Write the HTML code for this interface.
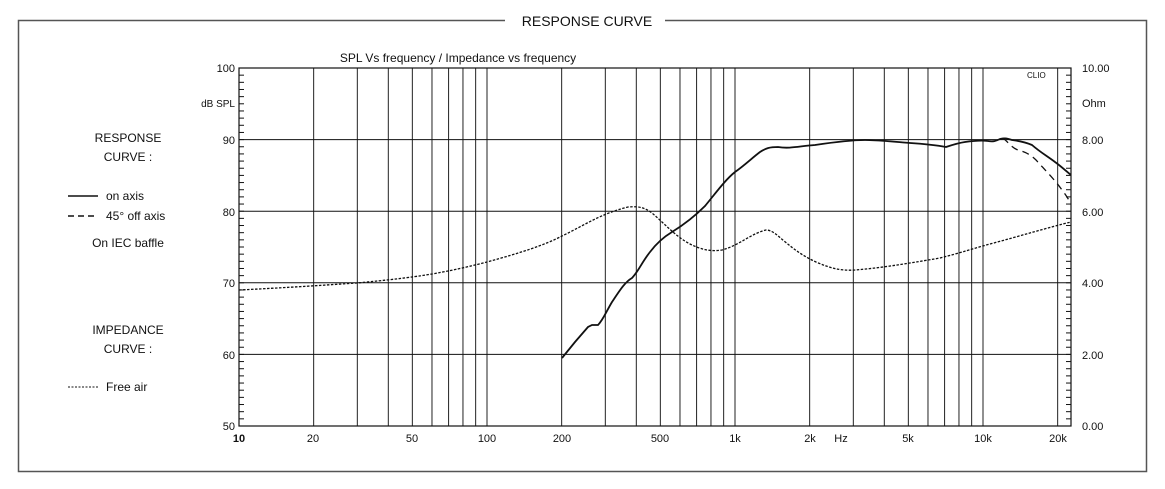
<!DOCTYPE html>
<html><head><meta charset="utf-8"><style>
body{margin:0;background:#fff;}
svg{display:block;font-family:"Liberation Sans",Arial,sans-serif;}
</style></head><body>
<svg id="s" width="1165" height="489" viewBox="0 0 1165 489" xmlns="http://www.w3.org/2000/svg">
<rect x="18.5" y="20.5" width="1128" height="451" fill="none" stroke="#555" stroke-width="1.5"/>
<rect x="505" y="10" width="160" height="20" fill="#fff"/>
<text x="587" y="26" font-size="14" text-anchor="middle" fill="#111">RESPONSE CURVE</text>
<text x="458" y="62" font-size="12" text-anchor="middle" fill="#111">SPL Vs frequency / Impedance vs frequency</text>
<g id="grid"></g>
<rect x="239" y="68" width="832" height="358" fill="none" stroke="#111" stroke-width="1.2"/>
<g font-size="11" fill="#111" text-anchor="end">
<text x="235" y="72">100</text><text x="235" y="107" font-size="10">dB SPL</text>
<text x="235" y="144">90</text><text x="235" y="216">80</text><text x="235" y="287">70</text>
<text x="235" y="359">60</text><text x="235" y="430">50</text>
</g>
<g font-size="11" fill="#111">
<text x="1082" y="72">10.00</text><text x="1082" y="107">Ohm</text>
<text x="1082" y="144">8.00</text><text x="1082" y="216">6.00</text><text x="1082" y="287">4.00</text>
<text x="1082" y="359">2.00</text><text x="1082" y="430">0.00</text>
<text x="1027" y="78" font-size="8">CLIO</text>
</g>
<g font-size="11" fill="#111" text-anchor="middle">
<text x="239" y="442" font-weight="bold">10</text><text x="313" y="442">20</text><text x="412" y="442">50</text>
<text x="487" y="442">100</text><text x="562" y="442">200</text><text x="660" y="442">500</text>
<text x="735" y="442">1k</text><text x="810" y="442">2k</text><text x="841" y="442">Hz</text>
<text x="908" y="442">5k</text><text x="983" y="442">10k</text><text x="1058" y="442">20k</text>
</g>
<g font-size="12" fill="#111" text-anchor="middle">
<text x="128" y="142">RESPONSE</text><text x="128" y="161">CURVE :</text>
<text x="128" y="247">On IEC baffle</text>
<text x="128" y="334">IMPEDANCE</text><text x="128" y="353">CURVE :</text>
</g>
<g font-size="12" fill="#111">
<line x1="68" y1="196" x2="98" y2="196" stroke="#111" stroke-width="1.5"/><text x="106" y="200">on axis</text>
<line x1="68" y1="216" x2="98" y2="216" stroke="#111" stroke-width="1.5" stroke-dasharray="6,4"/><text x="106" y="220">45°  off axis</text>
<line x1="68" y1="387" x2="98" y2="387" stroke="#111" stroke-width="1" stroke-dasharray="2,1.5"/><text x="106" y="391">Free air</text>
</g>
<path fill="none" stroke="#111" stroke-width="1.3" stroke-dasharray="2.5,1.5" d="M239,290 C300,287 340,284 357,283 C400,279 420,276 432,274 C460,269 475,265 487,262 C520,253 545,245 562,236 C585,225 600,214 628,207 C640,206 645,208 652,213 C665,224 675,236 690,244 C700,249 710,252 722,250 C740,245 750,234 766,230 C772,230 777,235 784,241 C795,250 803,256 816,262 C830,268 840,271 855,270 C880,268 905,264 940,258 C960,253 975,248 990,244 C1020,236 1050,227 1071,222"/>
<path fill="none" stroke="#111" stroke-width="1.3" stroke-dasharray="7,5" d="M1003,138 C1008,142 1012,148 1018,150 C1025,152 1030,154 1036,160 C1045,170 1055,180 1062,190 C1066,195 1069,200 1071,204"/>
<path fill="none" stroke="#111" stroke-width="1.8" d="M562,358 L575,342 L588,327 L592,325 L598,325 C603,320 606,312 612,302 C620,290 625,282 632,278 C638,272 642,262 650,252 C656,244 662,238 672,232 C685,224 695,216 705,206 C715,194 725,180 735,172 C745,165 752,158 760,152 C766,148 770,147 778,147 C790,149 800,146 815,145 C835,142 850,140 865,140 C880,140 895,142 910,143 C925,144 935,145 946,147 C952,145 958,143 965,142 C972,141 980,140 988,141 C993,142 996,141 1000,139 C1004,138 1006,138 1012,140 C1020,141 1025,142 1032,145 C1040,152 1047,156 1055,162 C1062,167 1067,172 1071,175"/>
</svg>
<script>
var g=document.getElementById('grid'),ns='http://www.w3.org/2000/svg';
function L(x1,y1,x2,y2,c,w){var l=document.createElementNS(ns,'line');l.setAttribute('x1',x1);l.setAttribute('y1',y1);l.setAttribute('x2',x2);l.setAttribute('y2',y2);l.setAttribute('stroke',c);l.setAttribute('stroke-width',w);g.appendChild(l);}
for(var d=0;d<4;d++)for(var m=1;m<10;m++){var f=Math.pow(10,d+1)*m;if(f>22600)break;var x=239+248*Math.log10(f/10);if(x<=239.5)continue;L(x,68,x,426,'#222',1);}
for(var v=1;v<5;v++){var y=68+v*71.6;L(239,y,1071,y,'#111',1);}
for(var i=1;i<50;i++){var y=68+i*7.16;L(239,y,244,y,'#111',1);L(1066,y,1071,y,'#111',1);}
</script>
</body></html>
